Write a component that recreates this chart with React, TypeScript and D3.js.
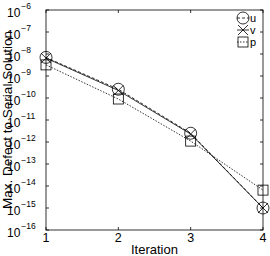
import React, { useRef, useEffect } from 'react';
import * as d3 from 'd3';

const iterations: number[] = [1, 2, 3, 4];
const uValues: number[] = [7e-9, 2.5e-10, 2.5e-12, 1e-15];
const vValues: number[] = [6.5e-9, 2.2e-10, 2.3e-12, 1e-15];
const pValues: number[] = [3.2e-9, 9e-11, 1.1e-12, 6.5e-15];
const yExponents: number[] = [-6, -7, -8, -9, -10, -11, -12, -13, -14, -15, -16];
const seriesNames: string[] = ['u', 'v', 'p'];

const App: React.FC = () => {
  const svgRef = useRef<SVGSVGElement | null>(null);

  useEffect(() => {
    if (!svgRef.current) return;
    const width = 270;
    const height = 256;
    const margin = { top: 10, right: 7, bottom: 26, left: 46 };
    const font = 'Liberation Sans, Arial, Helvetica, sans-serif';

    const x = d3.scaleLinear().domain([1, 4]).range([margin.left, width - margin.right]);
    const y = d3.scaleLog().domain([1e-16, 1e-6]).range([height - margin.bottom, margin.top]);

    const svg = d3.select(svgRef.current).attr('width', width).attr('height', height);
    svg.selectAll('*').remove();

    const x0 = margin.left, x1 = width - margin.right;
    const y0 = height - margin.bottom, y1 = margin.top;

    // ticks, pointing inward on all four sides
    const g = svg.append('g').attr('stroke', '#000').attr('stroke-width', 0.8);
    yExponents.forEach(e => {
      const yy = y(Math.pow(10, e));
      g.append('line').attr('x1', x0).attr('x2', x0 + 3).attr('y1', yy).attr('y2', yy);
      g.append('line').attr('x1', x1).attr('x2', x1 - 3).attr('y1', yy).attr('y2', yy);
    });
    iterations.forEach(i => {
      const xx = x(i);
      g.append('line').attr('x1', xx).attr('x2', xx).attr('y1', y0).attr('y2', y0 - 3);
      g.append('line').attr('x1', xx).attr('x2', xx).attr('y1', y1).attr('y2', y1 + 3);
    });
    svg.append('rect')
      .attr('x', x0).attr('y', y1).attr('width', x1 - x0).attr('height', y0 - y1)
      .attr('fill', 'none').attr('stroke', '#000').attr('stroke-width', 0.8);

    // y tick labels 10^-n
    yExponents.forEach(e => {
      const yy = y(Math.pow(10, e));
      const t = svg.append('text').attr('font-family', font).attr('fill', '#000')
        .attr('y', yy + 7);
      t.append('tspan').attr('x', 7).attr('font-size', 12).text('10');
      t.append('tspan').attr('font-size', 8.5).attr('dy', -8).attr('dx', 1).text('\u2212' + Math.abs(e));
    });

    // x tick labels
    iterations.forEach(i => {
      svg.append('text').attr('x', x(i)).attr('y', 242)
        .attr('text-anchor', 'middle').attr('font-family', font).attr('font-size', 12.5)
        .text(String(i));
    });

    svg.append('text').attr('x', (x0 + x1) / 2).attr('y', 254)
      .attr('text-anchor', 'middle').attr('font-family', font).attr('font-size', 13)
      .text('Iteration');
    svg.append('text')
      .attr('x', 11.5).attr('y', (y0 + y1) / 2)
      .attr('transform', `rotate(-90, 11.5, ${(y0 + y1) / 2})`)
      .attr('text-anchor', 'middle').attr('font-family', font).attr('font-size', 13.5)
      .text('Max. Defect to Serial Solution');

    const series = [
      { values: uValues, dash: '3,2', marker: 'circle' },
      { values: vValues, dash: null, marker: 'cross' },
      { values: pValues, dash: '1.5,1.5', marker: 'square' },
    ];

    const drawMarker = (m: string, cx: number, cy: number) => {
      if (m === 'circle') {
        svg.append('circle').attr('cx', cx).attr('cy', cy).attr('r', 6)
          .attr('fill', 'none').attr('stroke', '#000').attr('stroke-width', 0.8);
      } else if (m === 'cross') {
        const s = 5;
        svg.append('path').attr('d', `M${cx - s},${cy - s}L${cx + s},${cy + s}M${cx - s},${cy + s}L${cx + s},${cy - s}`)
          .attr('stroke', '#000').attr('stroke-width', 0.8);
      } else {
        const s = 5;
        svg.append('rect').attr('x', cx - s).attr('y', cy - s).attr('width', 2 * s).attr('height', 2 * s)
          .attr('fill', 'none').attr('stroke', '#000').attr('stroke-width', 0.8);
      }
    };

    const line = d3.line<number>().x((d, i) => x(iterations[i])).y(d => y(d));
    series.forEach(s => {
      const p = svg.append('path').datum(s.values).attr('d', line)
        .attr('fill', 'none').attr('stroke', '#000').attr('stroke-width', 0.8);
      if (s.dash) p.attr('stroke-dasharray', s.dash);
      s.values.forEach((v, i) => drawMarker(s.marker, x(iterations[i]), y(v)));
    });

    // legend
    series.forEach((s, i) => {
      const ly = 18 + i * 12;
      const lx = 243;
      const ln = svg.append('line').attr('x1', lx - 6).attr('x2', lx + 6).attr('y1', ly).attr('y2', ly)
        .attr('stroke', '#000').attr('stroke-width', 0.8);
      if (s.dash) ln.attr('stroke-dasharray', s.dash);
      drawMarker(s.marker, lx, ly);
      svg.append('text').attr('x', 250).attr('y', ly + 4)
        .attr('font-family', font).attr('font-size', 11).text(seriesNames[i]);
    });
  }, []);

  return <svg ref={svgRef} style={{ position: 'absolute', left: 0, top: 0 }}></svg>;
};

export default App;
